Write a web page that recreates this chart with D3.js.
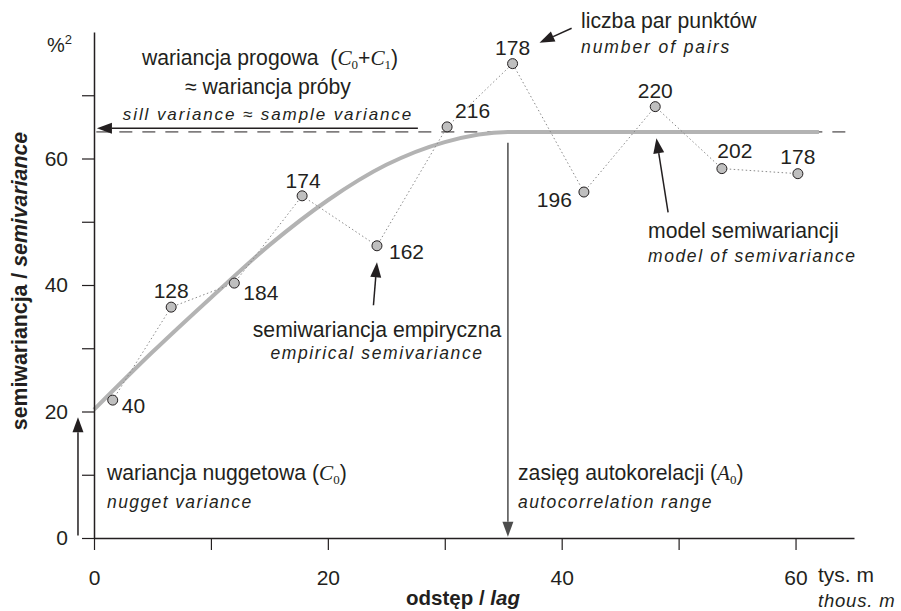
<!DOCTYPE html>
<html>
<head>
<meta charset="utf-8">
<script src="https://cdn.jsdelivr.net/npm/d3@7"></script>
<style>
  body { margin: 0; background: #fff; }
  text { font-family: "Liberation Sans", Arial, sans-serif; fill: #231f20; }
  .ital { font-style: italic; }
  .serif { font-family: "Liberation Serif", "Times New Roman", serif; font-style: italic; }
</style>
</head>
<body>
<script>
var margin = {top: 32, right: 47, bottom: 73, left: 94},
    width = 901 - margin.left - margin.right,
    height = 611 - margin.top - margin.bottom;

// empirical semivariance (lag in thous. m, semivariance in %^2)
var lags = [1.6, 6.6, 12.0, 17.8, 24.2, 30.2, 35.8, 41.9, 48.0, 53.7, 60.2];
var semivar = [21.8, 36.5, 40.3, 54.1, 46.2, 65.0, 75.0, 54.7, 68.2, 58.4, 57.6];
var pairs = [40, 128, 184, 174, 162, 216, 178, 196, 220, 202, 178];

// model of semivariance
var modelLag = [0, 5, 10, 15, 20, 25, 30, 35.4, 62];
var modelVal = [20.3, 29.4, 38.0, 46.3, 53.4, 59.0, 62.6, 64.2, 64.2];

var sill = 64.2, nugget = 20.3, range = 35.4;

var xTicks = [0, 10, 20, 30, 40, 50, 60];
var yTicks = [0, 10, 20, 30, 40, 50, 60, 70];

// label placement for point labels [dx, dy, anchor]
var labelPos = [[9, 13, "start"], [0, -9, "middle"], [9, 17, "start"], [1, -8, "middle"],
  [12, 13, "start"], [8, -9, "start"], [0, -9, "middle"], [-12, 15, "end"],
  [0, -9, "middle"], [13, -11, "middle"], [0, -10, "middle"]];

var x = d3.scaleLinear().domain([0, 65]).range([0, width]);
var y = d3.scaleLinear().domain([0, 80]).range([height, 0]);

var svg = d3.select("body").append("svg")
    .attr("width", 901)
    .attr("height", 611)
  .append("g")
    .attr("transform", "translate(" + margin.left + "," + margin.top + ")");

// arrow helper: line from (x1,y1) to tip (x2,y2) in pixels
function arrow(x1, y1, x2, y2, color, len, half) {
  var a = Math.atan2(y2 - y1, x2 - x1);
  var bx = x2 - len * Math.cos(a), by = y2 - len * Math.sin(a);
  svg.append("line")
      .attr("x1", x1).attr("y1", y1).attr("x2", bx).attr("y2", by)
      .attr("stroke", color).attr("stroke-width", 1.5);
  var px = -Math.sin(a) * half, py = Math.cos(a) * half;
  svg.append("path")
      .attr("d", "M" + x2 + "," + y2 + "L" + (bx + px) + "," + (by + py) + "L" + (bx - px) + "," + (by - py) + "Z")
      .attr("fill", color);
}

// sill dashed line
svg.append("line")
    .attr("x1", x(0.2)).attr("x2", x(65))
    .attr("y1", y(sill)).attr("y2", y(sill))
    .attr("stroke", "#231f20").attr("stroke-width", 1)
    .attr("stroke-dasharray", "13,10");

// model curve
var model = d3.line()
    .x(function(d, i) { return x(modelLag[i]); })
    .y(function(d) { return y(d); })
    .curve(d3.curveMonotoneX);

svg.append("path")
    .attr("d", model(modelVal))
    .attr("fill", "none")
    .attr("stroke", "#b3b3b3")
    .attr("stroke-width", 4);

// empirical dotted line
var emp = d3.line()
    .x(function(d, i) { return x(lags[i]); })
    .y(function(d) { return y(d); });

svg.append("path")
    .attr("d", emp(semivar))
    .attr("fill", "none")
    .attr("stroke", "#8a8a8a")
    .attr("stroke-width", 1)
    .attr("stroke-dasharray", "1.5,2.5");

svg.selectAll(".pt")
    .data(semivar)
  .enter().append("circle")
    .attr("class", "pt")
    .attr("cx", function(d, i) { return x(lags[i]); })
    .attr("cy", function(d) { return y(d); })
    .attr("r", 5)
    .attr("fill", "#bfbfbf")
    .attr("stroke", "#231f20")
    .attr("stroke-width", 1);

svg.selectAll(".plab")
    .data(pairs)
  .enter().append("text")
    .attr("class", "plab")
    .attr("x", function(d, i) { return x(lags[i]) + labelPos[i][0]; })
    .attr("y", function(d, i) { return y(semivar[i]) + labelPos[i][1]; })
    .attr("text-anchor", function(d, i) { return labelPos[i][2]; })
    .style("font-size", "21px")
    .text(function(d) { return d; });

// axes
var xAxis = svg.append("g")
    .attr("transform", "translate(0," + height + ")")
    .call(d3.axisBottom(x).tickValues(xTicks).tickSize(12).tickSizeOuter(0).tickPadding(20)
      .tickFormat(function(d) { return d % 20 == 0 ? d : ""; }));

var yAxis = svg.append("g")
    .call(d3.axisLeft(y).tickValues(yTicks).tickSize(12).tickSizeOuter(0).tickPadding(14)
      .tickFormat(function(d) { return d % 20 == 0 ? d : ""; }));

svg.selectAll(".domain").attr("stroke", "#231f20").attr("stroke-width", 1.5);
svg.selectAll(".tick line").attr("stroke", "#231f20").attr("stroke-width", 1.2);
svg.selectAll(".tick text").style("font-size", "21px")
    .style("font-family", "Liberation Sans, Arial, sans-serif").attr("fill", "#231f20");

// annotation arrows
arrow(x(27.7), y(64.8), x(0.25), y(64.8), "#231f20", 15, 5.5);      // sill
arrow(x(-1.37), y(0.4), x(-1.37), y(19.1), "#231f20", 15, 5.5);     // nugget
arrow(x(range), y(62.5), x(range), y(0.2), "#4d4d4d", 15, 5.5);     // range
arrow(x(49.1), y(51.5), x(48.1), y(63.2), "#231f20", 15, 5.5);      // model
arrow(x(23.9), y(36.8), x(24.2), y(43.6), "#231f20", 15, 5.5);      // empirical
arrow(x(40.85), y(80.6), x(38.1), y(78.3), "#231f20", 15, 5.5);     // pairs

// texts (positions relative to page)
var page = d3.select("svg");

function txt(px, py, str, size, cls, anchor) {
  return page.append("text")
      .attr("x", px).attr("y", py)
      .attr("class", cls || null)
      .attr("text-anchor", anchor || "start")
      .style("font-size", size + "px")
      .text(str);
}

function sub(t, s) {
  t.append("tspan").attr("dy", 4).style("font-size", "13px")
      .style("font-family", "Liberation Serif, Times New Roman, serif").text(s);
}

var pct = txt(47, 52, "%", 20);
pct.append("tspan").attr("dy", -8).style("font-size", "13px").text("2");

var t1 = txt(270, 65, "wariancja progowa\u00a0\u00a0(", 21.2, null, "middle");
t1.append("tspan").attr("class", "serif").text("C");
sub(t1, "0");
t1.append("tspan").attr("dy", -4).text("+");
t1.append("tspan").attr("class", "serif").text("C");
sub(t1, "1");
t1.append("tspan").attr("dy", -4).text(")");

txt(268, 94, "\u2248 wariancja próby", 21.2, null, "middle");
txt(268, 120, "sill variance \u2248 sample variance", 17, "ital", "middle").style("letter-spacing", "1.9px");

txt(581, 28, "liczba par punktów", 21.2);
txt(581, 53, "number of pairs", 17.5, "ital").style("letter-spacing", "1.9px");

txt(648, 238, "model semiwariancji", 21.2);
txt(648, 262, "model of semivariance", 17.5, "ital").style("letter-spacing", "1.6px");

txt(377, 337, "semiwariancja empiryczna", 21.2, null, "middle");
txt(377, 359, "empirical semivariance", 17.5, "ital", "middle").style("letter-spacing", "1.6px");

var t2 = txt(107, 480, "wariancja nuggetowa (", 21.2);
t2.append("tspan").attr("class", "serif").text("C");
sub(t2, "0");
t2.append("tspan").attr("dy", -4).text(")");
txt(107, 508, "nugget variance", 17.5, "ital").style("letter-spacing", "1.4px");

var t3 = txt(518, 480, "zasięg autokorelacji (", 21.2);
t3.append("tspan").attr("class", "serif").text("A");
sub(t3, "0");
t3.append("tspan").attr("dy", -4).text(")");
txt(518, 508, "autocorrelation range", 17.5, "ital").style("letter-spacing", "1.4px");

txt(818, 582, "tys. m", 21);
txt(818, 607, "thous. m", 18.5, "ital").style("letter-spacing", "0.8px");

var xl = txt(463, 605, "odstęp / ", 20.5, null, "middle").style("font-weight", "bold");
xl.append("tspan").style("font-style", "italic").text("lag");

var yl = page.append("text")
    .attr("transform", "translate(27,281) rotate(-90)")
    .attr("text-anchor", "middle")
    .style("font-size", "21.3px")
    .style("font-weight", "bold")
    .text("semiwariancja / ");
yl.append("tspan").style("font-style", "italic").text("semivariance");
</script>
</body>
</html>
